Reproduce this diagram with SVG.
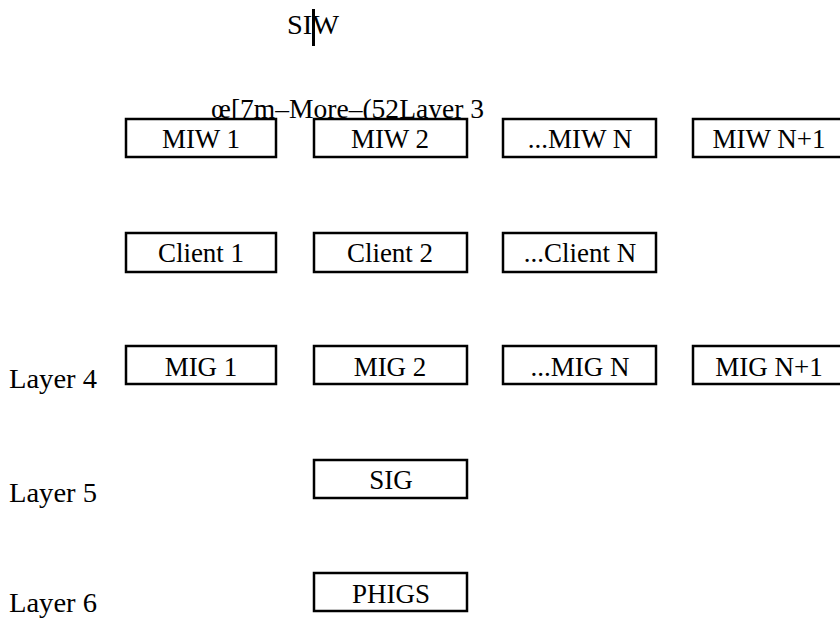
<svg xmlns="http://www.w3.org/2000/svg" width="840" height="619" viewBox="0 0 840 619">
<style>
text{font-family:"Liberation Serif","Times New Roman",serif;font-size:27px;fill:#000}
.c{text-anchor:middle}
rect{fill:#fff;stroke:#000;stroke-width:2.5}
</style>
<rect x="0" y="0" width="840" height="619" style="fill:#fff;stroke:none"/>
<g id="siw">
<text x="287" y="34" textLength="52" lengthAdjust="spacingAndGlyphs">SIW</text>
<line x1="313.5" y1="9" x2="313.5" y2="46" stroke="#000" stroke-width="3"/>
</g>
<g id="layer3"><text x="211" y="118" textLength="273" lengthAdjust="spacingAndGlyphs">œ[7m–More–(52Layer 3</text></g>
<g id="miw1"><rect x="126" y="119" width="150" height="38"/><text class="c" x="201" y="148">MIW 1</text></g>
<g id="miw2"><rect x="314" y="119" width="153" height="38"/><text class="c" x="390" y="148">MIW 2</text></g>
<g id="miwn"><rect x="503" y="119" width="153" height="38"/><text class="c" x="580" y="148">...MIW N</text></g>
<g id="miwn1"><rect x="693" y="119" width="160" height="38"/><text class="c" x="769" y="148">MIW N+1</text></g>
<g id="client1"><rect x="126" y="233" width="150" height="39"/><text class="c" x="201" y="262">Client 1</text></g>
<g id="client2"><rect x="314" y="233" width="153" height="39"/><text class="c" x="390" y="262">Client 2</text></g>
<g id="clientn"><rect x="503" y="233" width="153" height="39"/><text class="c" x="580" y="262">...Client N</text></g>
<g id="layer4"><text x="9" y="388" textLength="88" lengthAdjust="spacingAndGlyphs">Layer 4</text></g>
<g id="mig1"><rect x="126" y="346" width="150" height="38"/><text class="c" x="201" y="376">MIG 1</text></g>
<g id="mig2"><rect x="314" y="346" width="153" height="38"/><text class="c" x="390" y="376">MIG 2</text></g>
<g id="mign"><rect x="503" y="346" width="153" height="38"/><text class="c" x="580" y="376">...MIG N</text></g>
<g id="mign1"><rect x="693" y="346" width="160" height="38"/><text class="c" x="769" y="376">MIG N+1</text></g>
<g id="layer5"><text x="9" y="502" textLength="88" lengthAdjust="spacingAndGlyphs">Layer 5</text></g>
<g id="sig"><rect x="314" y="460" width="153" height="38"/><text class="c" x="391" y="489">SIG</text></g>
<g id="layer6"><text x="9" y="612" textLength="88" lengthAdjust="spacingAndGlyphs">Layer 6</text></g>
<g id="phigs"><rect x="314" y="573" width="153" height="38"/><text class="c" x="391" y="603">PHIGS</text></g>
<g id="connectors"></g>
</svg>
